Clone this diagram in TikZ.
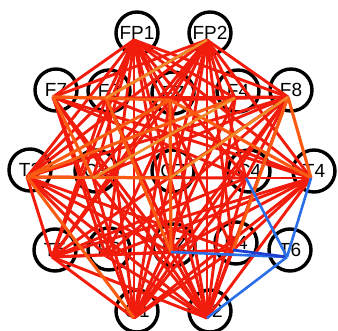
\documentclass[tikz,border=0pt]{standalone}
\usepackage{fontspec}
\setmainfont{Liberation Sans}
\usetikzlibrary{calc}
\definecolor{ered}{HTML}{F21C0C}
\definecolor{eorg}{HTML}{FA5A12}
\definecolor{elor}{HTML}{F08A28}
\definecolor{eblue}{HTML}{2A6FE8}
\definecolor{edblue}{HTML}{1F3FD0}
\begin{document}
\begin{tikzpicture}[x=1pt,y=-1pt,
  elec/.style={circle,draw=black,line width=3.4pt,minimum size=42pt,inner sep=0pt,fill=white,font=\fontsize{19}{19}\selectfont},
  redE/.style={ered,line width=2.9pt},
  orgE/.style={eorg,line width=3.1pt},
  lorE/.style={elor,line width=2.6pt},
  bluE/.style={eblue,line width=2.6pt},
  dbluE/.style={edblue,line width=2.8pt}]
\useasboundingbox (0,0) rectangle (338,331);
\clip (0,0) rectangle (338,331);
% anchor points where connectors meet
\foreach \n/\x/\y in {FP1/134/40, FP2/207/40, F7/53/97, F3/106/98, FZ/170/100, F4/235/98, F8/288/97,
  T3/27/177, C3/93/178, CZ/170/178, C4/246/178, T4/311/178,
  T5/52/257, P3/106/256, PZ/171/252, P4/233/250, T6/287/257, O1/134/318, O2/207/318}
  {\coordinate (\n) at (\x,\y);
   \node[elec] (c\n) at ($(\n)+(3,-7)$) {\n};}
% red connectors
\foreach \a/\b in {FP1/F7, FP1/F3, FP1/FZ, FP1/F4, FP1/F8, FP1/T3, FP1/C3, FP1/C4, FP1/T4, FP1/T5, FP1/P3, FP1/PZ, FP1/P4, FP1/O1, FP1/O2,
  FP2/F7, FP2/F3, FP2/FZ, FP2/F4, FP2/F8, FP2/T3, FP2/C3, FP2/C4, FP2/T4, FP2/P3, FP2/PZ, FP2/P4, FP2/O1, FP2/O2, FP2/T5,
  F7/C4, F7/T4, F7/P3, F7/PZ, F7/O1, F7/O2,
  F8/T3, F8/F3, F8/FZ, F8/C3, F8/PZ, F8/P3, F8/O1, F8/O2, F8/T5, F8/C4,
  T3/T5, T3/P3, T3/PZ, T3/O2, T3/F3, T3/C4, T3/P4,
  CZ/T4, T4/F3, T4/C3, T4/P3, T4/PZ, T4/O1, T4/O2, T4/T5, T4/P4,
  T5/F3, T5/FZ, T5/PZ, T5/O1, T5/O2, T5/C4, T5/P4,
  O1/F3, O1/FZ, O1/C3, O1/C4, O1/PZ, O1/P4, O1/F4,
  O2/F3, O2/FZ, O2/C3, O2/C4, O2/PZ, O2/P4, O2/F4, O2/P3}
  {\draw[redE] (\a) -- (\b);}
% orange connectors
\foreach \a/\b in {F7/FZ, F7/F3, F7/C3, T3/CZ, T3/FZ, T3/O1, FZ/PZ, F8/T4, T4/FZ, F8/P4, T3/F4, F3/PZ}
  {\draw[orgE] (\a) -- (\b);}
\foreach \a/\b in {FP2/F3, F4/C3, F8/CZ}
  {\draw[lorE] (\a) -- (\b);}
% blue connectors
\draw[bluE] (PZ) -- (T6);
\draw[dbluE] (P4) -- (T6);
\draw[bluE] (C4) -- (T6);
\draw[bluE] (T4) -- (T6);
\draw[bluE] (T6) -- (O2);
\end{tikzpicture}
\end{document}
